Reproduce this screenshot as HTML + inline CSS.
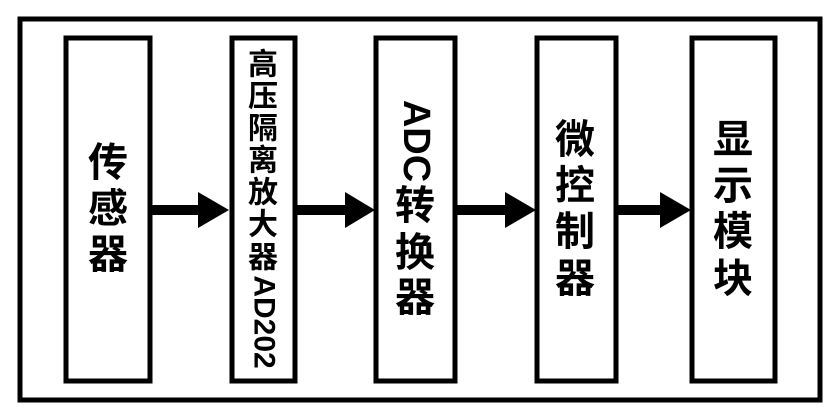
<!DOCTYPE html>
<html><head><meta charset="utf-8"><style>
html,body{margin:0;padding:0;background:#fff;}
svg{display:block}
text{font-family:"Liberation Sans","Noto Sans CJK SC",sans-serif;fill:#000;font-weight:bold;}
</style></head><body>
<svg width="840" height="420" viewBox="0 0 840 420" xmlns="http://www.w3.org/2000/svg">
<g fill="none" stroke="#000" stroke-width="5">
<rect x="20" y="19" width="800" height="381"/>
<rect x="66" y="38" width="84" height="343"/>
<rect x="232" y="38" width="63" height="343"/>
<rect x="376" y="38" width="79" height="343"/>
<rect x="537" y="38" width="79" height="343"/>
<rect x="692" y="38" width="83" height="343"/>
</g>
<g fill="#000">
<rect x="150" y="205" width="50" height="10"/><polygon points="198,192 229,210 198,228"/>
<rect x="295" y="205" width="52" height="10"/><polygon points="345,192 375,210 345,228"/>
<rect x="455" y="205" width="52" height="10"/><polygon points="505,192 536,210 505,228"/>
<rect x="616" y="205" width="46" height="10"/><polygon points="660,192 691,210 660,228"/>
</g>
<g font-size="40" text-anchor="middle" dominant-baseline="central">
<text x="108" y="163">传</text><text x="108" y="209">感</text><text x="108" y="255">器</text>
<text x="415" y="206">转</text><text x="415" y="253">换</text><text x="415" y="298">器</text>
<text x="575" y="140">微</text><text x="575" y="186">控</text><text x="575" y="232">制</text><text x="575" y="279">器</text>
<text x="733" y="140">显</text><text x="733" y="186">示</text><text x="733" y="232">模</text><text x="733" y="279">块</text>
</g>
<g font-size="30" text-anchor="middle" dominant-baseline="central">
<text x="263" y="65">高</text><text x="263" y="97">压</text><text x="263" y="129">隔</text><text x="263" y="161">离</text><text x="263" y="193">放</text><text x="263" y="225">大</text><text x="263" y="258">器</text>
</g>
<text font-size="30" text-anchor="middle" dominant-baseline="central" transform="translate(264,322) rotate(90)">AD202</text>
<text font-size="38" text-anchor="middle" dominant-baseline="central" transform="translate(416,141) rotate(90)">ADC</text>
</svg>
</body></html>
